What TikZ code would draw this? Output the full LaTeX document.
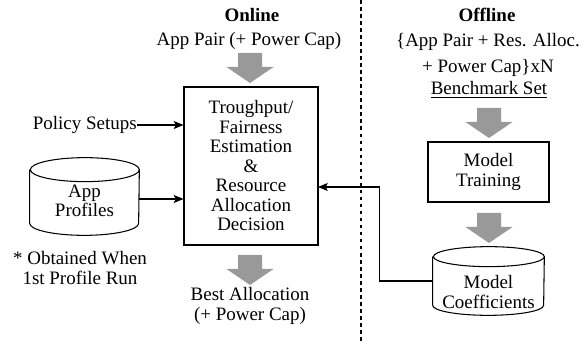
\documentclass[tikz,border=0pt]{standalone}
\usepackage{fontspec}
\setmainfont{Liberation Serif}
\usepackage{tikz}
\usetikzlibrary{arrows.meta}
\definecolor{block}{RGB}{153, 153, 153}

\tikzset{
  flow/.pic={\fill[block] (-12, 0) -- (12, 0) -- (12, 14) -- (23.5, 14) -- (0, 30)
    -- (-23.5, 14) -- (-12, 14) -- cycle;},
  stage/.style={draw, line width=0.6pt, align=center, inner sep=0pt},
  store/.style={inner sep=0pt},
  wire/.style={->, line width=0.6pt}
}

\begin{document}
\fontsize{10.8}{11.1}\selectfont
\begin{tikzpicture}[x=0.02cm, y=-0.02cm, >={Stealth[length=5.5pt, width=4.5pt, inset=1pt]}]

  \useasboundingbox (0, 0) rectangle (586, 344);

  % online
  \node[font=\bfseries] (online) at (252, 15) {Online};
  \node (pair) at (249, 41) {App Pair (+ Power Cap)};
  \pic at (250, 53) {flow};
  \node[stage, minimum width=2.68cm, minimum height=3.16cm] (decide) at (251, 166)
    {Troughput/\\Fairness\\Estimation\\\&\\Resource\\Allocation\\Decision};
  \pic at (250, 255) {flow};
  \node[align=center] (best) at (250, 306) {Best Allocation\\(+ Power Cap)};

  \node[anchor=east, inner xsep=0pt] (policy) at (137, 125) {Policy Setups};

  \node[store, minimum width=2.18cm, minimum height=1.54cm] (profiles) at (84.5, 196.5) {};
  \draw[line width=0.6pt] ([yshift=-0.24cm]profiles.north west) -- ([yshift=0.24cm]profiles.south west)
    arc[start angle=180, end angle=360, x radius=1.09cm, y radius=0.24cm]
    -- ([yshift=-0.24cm]profiles.north east)
    arc[start angle=0, end angle=180, x radius=1.09cm, y radius=0.24cm]
    arc[start angle=180, end angle=360, x radius=1.09cm, y radius=0.24cm];
  \node[align=center] (profiletext) at (84.5, 201) {App\\Profiles};
  \node[align=center] (note) at (80, 268) {* Obtained When\\1st Profile Run};

  \draw[wire] (policy.east) -- (policy.east -| decide.west);
  \draw[wire] ([yshift=-0.05cm]profiles.east) -- ([yshift=-0.05cm]profiles.east -| decide.west);

  \draw[line width=0.6pt, dash pattern=on 2pt off 2pt] (361, 0) -- (361, 344);

  % offline
  \node[font=\bfseries] (offline) at (487, 15) {Offline};
  \node[align=center] (sample) at (488, 55) {\{App Pair + Res. Alloc.\\[3.6pt] + Power Cap\}xN};
  \node (bench) at (489, 90) {\underline{Benchmark Set}};
  \pic at (489, 108) {flow};
  \node[stage, minimum width=2.42cm, minimum height=1.2cm] (train) at (488.5, 172) {Model\\Training};
  \pic at (489, 213) {flow};

  \node[store, minimum width=2.22cm, minimum height=1.36cm] (coef) at (488.5, 281) {};
  \draw[line width=0.6pt] ([yshift=-0.2cm]coef.north west) -- ([yshift=0.2cm]coef.south west)
    arc[start angle=180, end angle=360, x radius=1.11cm, y radius=0.2cm]
    -- ([yshift=-0.2cm]coef.north east)
    arc[start angle=0, end angle=180, x radius=1.11cm, y radius=0.2cm]
    arc[start angle=180, end angle=360, x radius=1.11cm, y radius=0.2cm];
  \node[align=center] (coeftext) at (488.5, 292) {Model\\Coefficients};

  \coordinate (feed) at (318, 187);
  \draw[wire] (coef.west) -- ++(-53, 0) |- (feed);

\end{tikzpicture}
\end{document}
